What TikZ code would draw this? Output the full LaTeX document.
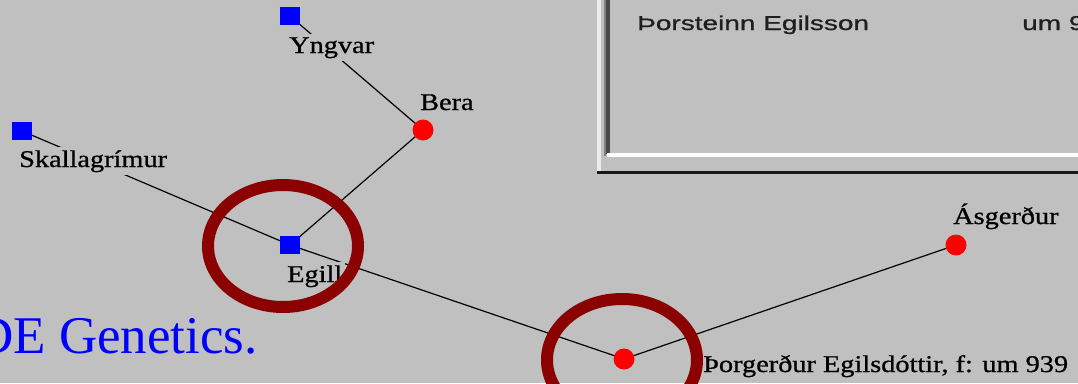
\documentclass[tikz,border=0pt]{standalone}
\usepackage{fontspec}
\setmainfont{Liberation Serif}
\newfontfamily\winsans[FakeBold=0.8]{Liberation Sans}
\newfontfamily\winserif[FakeBold=0.8]{Liberation Serif}
\usepackage{graphicx}
\pgfdeclarelayer{paper}
\pgfdeclarelayer{links}
\pgfdeclarelayer{marks}
\pgfsetlayers{paper,links,main,marks}
\definecolor{panel}{RGB}{192,192,192}
\definecolor{ring}{RGB}{139,0,0}
\definecolor{edgelight}{RGB}{236,236,236}
\definecolor{edgemid}{RGB}{128,128,128}
\definecolor{edgedark}{RGB}{72,72,72}
% bitmap-style labels are set a little wider than the outline font
\newcommand{\wide}[1]{\scalebox{1.18}[1]{#1}}
\newcommand{\widesans}[1]{\scalebox{1.4}[1]{#1}}

\begin{document}
\begin{tikzpicture}[x=1pt,y=-1pt,
  male/.style={rectangle, fill=blue, minimum width=20pt, minimum height=18pt, inner sep=0pt},
  female/.style={circle, fill=red, minimum size=21pt, inner sep=0pt},
  personlabel/.style={fill=panel, inner sep=3pt, anchor=base west, font=\winserif\fontsize{24}{24}\selectfont},
  listtext/.style={anchor=base west, inner sep=0pt, text=black!88, font=\winsans\fontsize{20}{20}\selectfont},
  link/.style={line width=1.2pt, black},
  ringmark/.style={draw=ring, line width=12pt}]

\useasboundingbox (0,0) rectangle (1078,383);
\clip (0,0) rectangle (1078,383);

\begin{pgfonlayer}{paper}
  \fill[panel] (0,0) rectangle (1078,383);
\end{pgfonlayer}

% sunken list panel, top right
\fill[edgelight] (597,-2) rectangle (601,172);
\fill[black!90] (597,171) rectangle (1080,174);
\fill[edgemid] (604,-2) rectangle (606,156);
\fill[edgedark] (606,-2) rectangle (610,154);
\fill[white] (607,153) rectangle (1080,157);
\node[listtext] (plist) at (637,30) {\widesans{Þorsteinn Egilsson}};
\node[listtext] (pdate) at (1022,30) {\widesans{um 9}};

% company name
\node[font=\fontsize{53}{53}\selectfont, text=blue, anchor=base east, inner sep=0pt] (firm) at (258,353) {DE Genetics.};

% people
\node[male] (yng) at (290,16) {};
\node[female] (bera) at (423,130) {};
\node[male] (sk) at (22,131) {};
\node[male] (eg) at (290,245) {};
\node[female] (thg) at (624,359) {};
\node[female] (asg) at (956,245) {};

\node[personlabel] (yngL) at (286,53) {\wide{Yngvar}};
\node[personlabel] (beraL) at (417,110) {\wide{Bera}};
\node[personlabel] (skL) at (16,167) {\wide{Skallagrímur}};
\node[personlabel] (egL) at (284,282) {\wide{Egill}};
\node[personlabel] (asgL) at (950,224) {\wide{Ásgerður}};
\node[personlabel] (thgL) at (700,372) {\wide{Þorgerður Egilsdóttir, f: um 939}};

% family links
\begin{pgfonlayer}{links}
  \draw[link] (yng.center) -- (bera.center);
  \draw[link] (bera.center) -- (eg.center);
  \draw[link] (sk.center) -- (eg.center);
  \draw[link] (eg.center) -- (thg.center);
  \draw[link] (thg.center) -- (asg.center);
\end{pgfonlayer}

% highlight rings
\begin{pgfonlayer}{marks}
  \draw[ringmark] (283,246) ellipse [x radius=75pt, y radius=61pt];
  \draw[ringmark] (622,360) ellipse [x radius=75pt, y radius=61pt];
\end{pgfonlayer}
\end{tikzpicture}
\end{document}
